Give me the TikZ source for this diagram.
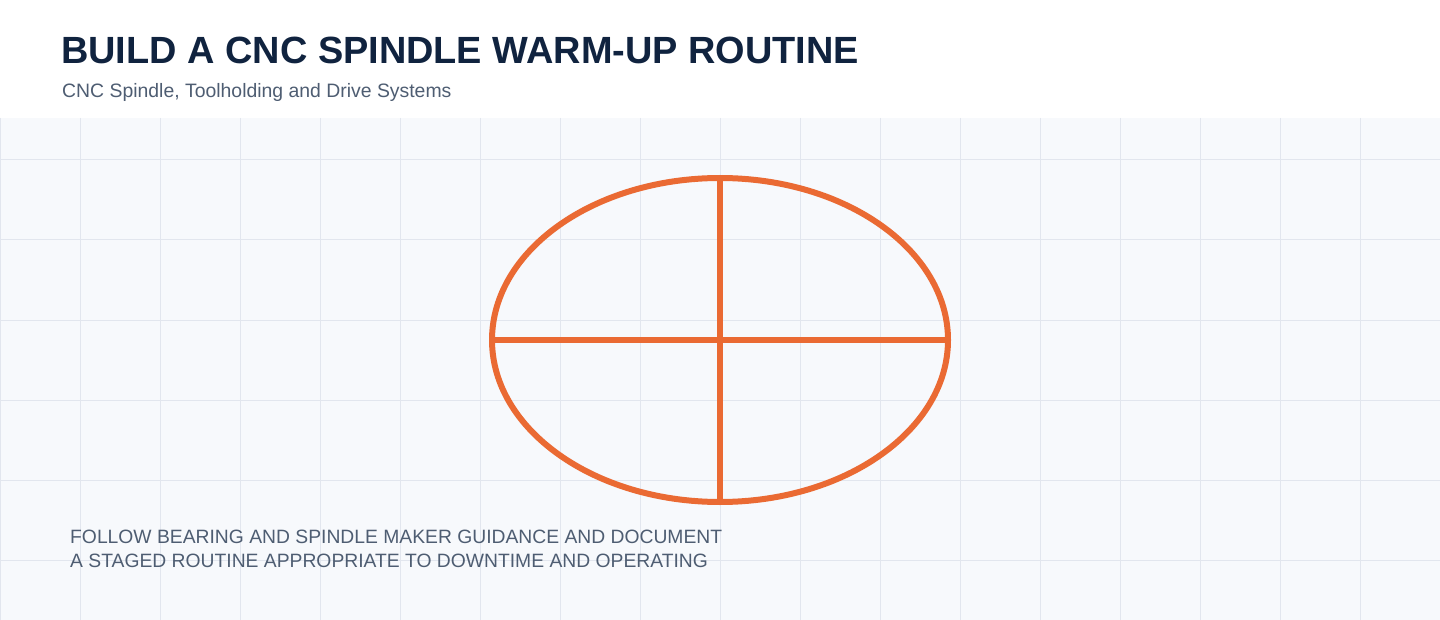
\documentclass[tikz,border=0pt]{standalone}
\usepackage{fontspec}
\setmainfont{Liberation Sans}
\usetikzlibrary{shapes.geometric}
\definecolor{titlec}{HTML}{10233F}
\definecolor{subc}{HTML}{4E5D72}
\definecolor{gridc}{HTML}{E2E6EE}
\definecolor{bgc}{HTML}{F7F9FC}
\definecolor{orangec}{HTML}{EA6A33}
\begin{document}
\begin{tikzpicture}[x=1pt,y=-1pt,
  shapeline/.style={draw=orangec,line width=6pt},
  txt/.style={inner sep=0pt,anchor=base west}]
\useasboundingbox (0,0) rectangle (1440,620);
\fill[white] (0,0) rectangle (1440,118);
\fill[bgc] (0,118) rectangle (1440,620);
\foreach \x in {0,80,...,1440} \draw[gridc,line width=1pt] (\x,118) -- (\x,620);
\foreach \y in {160,240,...,600} \draw[gridc,line width=1pt] (0,\y) -- (1440,\y);
\node[txt,font=\bfseries\fontsize{37.9}{42}\selectfont,text=titlec] (title) at (61,64) {BUILD A CNC SPINDLE WARM-UP ROUTINE};
\node[txt,font=\fontsize{19.4}{22}\selectfont,text=subc] (sub) at (62,98) {CNC Spindle, Toolholding and Drive Systems};
\node[ellipse,shapeline,minimum width=456pt,minimum height=324pt,inner sep=0pt] (ell) at (720,340) {};
\draw[shapeline] (ell.west) -- (ell.east);
\draw[shapeline] (ell.north) -- (ell.south);
\node[txt,font=\fontsize{19.3}{24}\selectfont,text=subc,align=left] (note) at (70,567) {FOLLOW BEARING AND SPINDLE MAKER GUIDANCE AND DOCUMENT\\A STAGED ROUTINE APPROPRIATE TO DOWNTIME AND OPERATING};
\end{tikzpicture}
\end{document}
